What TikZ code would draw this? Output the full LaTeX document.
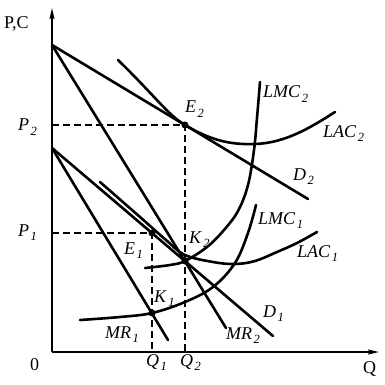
\documentclass[tikz,border=0pt]{standalone}
\usepackage{fontspec}
\setmainfont{Liberation Serif}
\usetikzlibrary{arrows.meta}
\newcommand\sublab[2]{\textit{#1}\kern1.5pt\raisebox{-4.5pt}{\fontsize{12.5}{12.5}\selectfont\textit{#2}}}
\begin{document}
\begin{tikzpicture}[x=1pt,y=-1pt,
  curve/.style={line width=2.6pt, line cap=round},
  axis/.style={line width=1.9pt, -{Stealth[length=11pt,width=5pt,inset=2pt]}},
  guide/.style={line width=1.2pt, dash pattern=on 7pt off 4pt},
  dot/.style={circle, fill, inner sep=0pt, minimum size=7pt},
  lbl/.style={font=\fontsize{18}{18}\selectfont, inner sep=0pt, anchor=base west}]
\useasboundingbox (0,0) rectangle (385,385);
% axes
\coordinate (O) at (52,352);
\coordinate (Ytop) at (52,8);
\coordinate (Xend) at (379,352);
\draw[axis] (O) -- (Ytop);
\draw[axis] (O) -- (Xend);
% key points
\coordinate (A2) at (52,45);
\coordinate (A1) at (52,148);
\coordinate (P2) at (52,125);
\coordinate (P1) at (52,233);
\coordinate (Q2) at (185,352);
\coordinate (Q1) at (152,352);
\coordinate (D2end) at (308,199);
\coordinate (MR2end) at (226,328);
\coordinate (MR1end) at (168,340);
\coordinate (D1end) at (273,336);
\node[dot] (E2) at (185,125) {};
\node[dot] (E1) at (152,233) {};
\node[dot] (K2) at (185,261) {};
\node[dot] (K1) at (152,313) {};
% dashed guides
\draw[guide] (P2) -- (E2.center) -- (Q2);
\draw[guide] (P1) -- (E1.center) -- (Q1);
% straight lines
\draw[curve] (A2) -- (D2end);
\draw[curve] (A2) -- (MR2end);
\draw[curve] (A1) -- (MR1end);
\draw[curve] (A1) -- (D1end);
% LAC2
\draw[curve] (118,60) .. controls (155,96) and (168,115) .. (E2.center)
  .. controls (210,140) and (230,145) .. (255,144)
  .. controls (285,143) and (310,128) .. (335,112);
% LMC2
\draw[curve] plot[smooth, tension=0.6] coordinates {(145,268) (170,265) (185,261) (207,247) (224,230) (238,211) (248,185) (254,150) (257,118) (260,82)};
% LMC1
\draw[curve] plot[smooth, tension=0.6] coordinates {(80,320) (120,317) (152,313) (185,302) (213,287) (235,263) (248,233) (256,205)};
% LAC1
\draw[curve] plot[smooth, tension=0.6] coordinates {(100,182) (140,217) (166,240) (185,255) (213,262) (235,264) (255,261) (277,252) (297,243) (317,232)};
% labels
\node[lbl] (lPC) at (4,29) {P,C};
\node[lbl] (lP2) at (18,131) {\sublab{P}{2}};
\node[lbl] (lP1) at (18,236) {\sublab{P}{1}};
\node[lbl] (l0) at (30,370) {0};
\node[lbl] (lQ) at (363,373) {Q};
\node[lbl] (lQ1) at (146,366) {\sublab{Q}{1}};
\node[lbl] (lQ2) at (180,366) {\sublab{Q}{2}};
\node[lbl] (lE2) at (185,113) {\sublab{E}{2}};
\node[lbl] (lLMC2) at (263,98) {\sublab{LMC}{2}};
\node[lbl] (lLAC2) at (323,137) {\sublab{LAC}{2}};
\node[lbl] (lD2) at (293,180) {\sublab{D}{2}};
\node[lbl] (lLMC1) at (258,224) {\sublab{LMC}{1}};
\node[lbl] (lLAC1) at (297,257) {\sublab{LAC}{1}};
\node[lbl] (lD1) at (263,317) {\sublab{D}{1}};
\node[lbl] (lMR2) at (226,339) {\sublab{MR}{2}};
\node[lbl] (lK2) at (189,243) {\sublab{K}{2}};
\node[lbl] (lE1) at (124,254) {\sublab{E}{1}};
\node[lbl] (lK1) at (154,302) {\sublab{K}{1}};
\node[lbl] (lMR1) at (105,338) {\sublab{MR}{1}};
\end{tikzpicture}
\end{document}
